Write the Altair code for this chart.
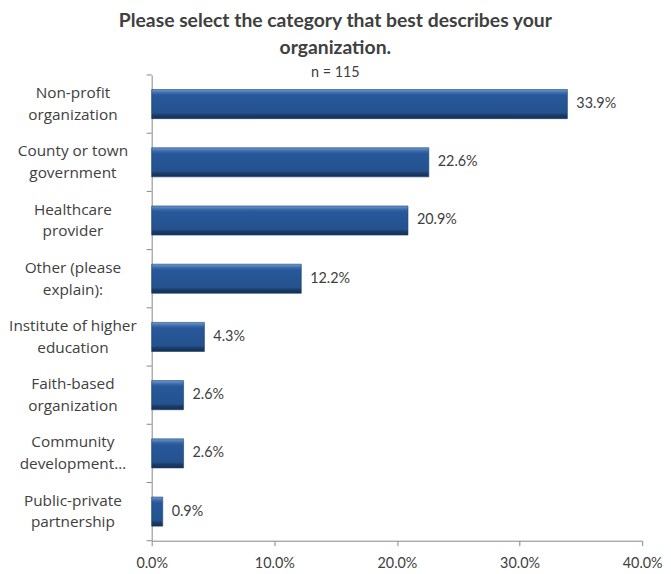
import altair as alt
import pandas as pd

categories = [
    "Non-profit|organization",
    "County or town|government",
    "Healthcare|provider",
    "Other (please|explain):",
    "Institute of higher|education",
    "Faith-based|organization",
    "Community|development…",
    "Public-private|partnership",
]
values = [0.339, 0.226, 0.209, 0.122, 0.043, 0.026, 0.026, 0.009]

df = pd.DataFrame({"cat": categories, "val": values})

FONT = "Lato"
LFONT = "Open Sans"
AX = "#868686"
TXT = "#404040"

grad = alt.Gradient(
    gradient="linear", x1=0, x2=0, y1=0, y2=1,
    stops=[
        alt.GradientStop(color="#6d9ad0", offset=0),
        alt.GradientStop(color="#3a6aa8", offset=0.12),
        alt.GradientStop(color="#28589a", offset=0.2),
        alt.GradientStop(color="#24528e", offset=0.8),
        alt.GradientStop(color="#1a3c68", offset=0.88),
        alt.GradientStop(color="#152f52", offset=1),
    ],
)

y = alt.Y("cat:N", sort=categories, title=None,
          scale=alt.Scale(paddingInner=0, paddingOuter=0),
          axis=alt.Axis(labelExpr="split(datum.label, '|')", labelFont=LFONT,
                        labelFontSize=15.5, labelColor=TXT, labelLineHeight=22,
                        labelAlign="center", labelPadding=80, labelLimit=200,
                        labelOffset=-11, ticks=False,
                        domainColor=AX, labelBaseline="middle"))
x = alt.X("val:Q", title=None,
          scale=alt.Scale(domain=[0, 0.4], nice=False),
          axis=alt.Axis(format=".1%", values=[0, 0.1, 0.2, 0.3, 0.4], grid=False,
                        labelFont=FONT, labelFontSize=14.5, labelColor=TXT,
                        tickSize=5, tickColor=AX, domainColor=AX, labelPadding=11,
                        labelFlush=False))

bars = alt.Chart(df).mark_bar(color=grad, stroke="#1a3f6e", strokeWidth=0.6,
                              height=alt.RelativeBandSize(band=0.5)).encode(y=y, x=x)

# category separator ticks on the y axis (Excel-style, between categories)
ticks_top = alt.Chart(df).mark_rule(color=AX, strokeWidth=1).encode(
    y=alt.Y("cat:N", sort=categories, bandPosition=0),
    x=alt.value(-5), x2=alt.value(0))
ticks_bottom = alt.Chart(df).transform_filter(
    alt.datum.cat == categories[-1]).mark_rule(color=AX, strokeWidth=1).encode(
    y=alt.Y("cat:N", sort=categories, bandPosition=1),
    x=alt.value(-5), x2=alt.value(0))

text = alt.Chart(df).mark_text(align="left", dx=9, font=FONT, fontSize=14.5, color=TXT).encode(
    y=alt.Y("cat:N", sort=categories), x="val:Q", text=alt.Text("val:Q", format=".1%"))

chart = (bars + ticks_top + ticks_bottom + text).properties(
    width=495, height=470,
    title=alt.TitleParams(
        text=["Please select the category that best describes your", "organization."],
        subtitle="n = 115",
        font=FONT, fontSize=19.5, fontWeight="bold", color=TXT, lineHeight=27,
        subtitleFont=FONT, subtitleFontSize=14.5, subtitleColor=TXT, subtitlePadding=8,
        anchor="middle", frame="bounds", offset=-6,
    ),
).configure(
    padding={"left": 0, "top": 0, "right": 0, "bottom": 0}
).configure_view(stroke=None)

chart.save("out.html", embed_options={"renderer": "svg", "actions": False})
